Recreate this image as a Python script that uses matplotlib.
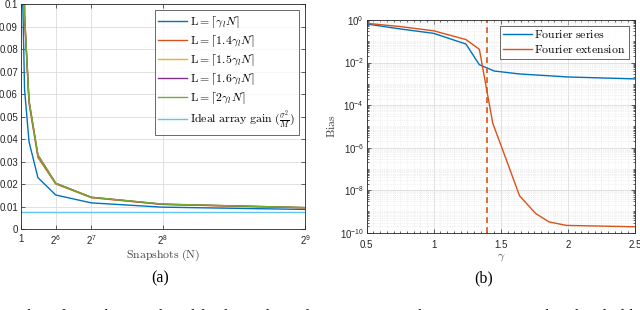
import numpy as np
import matplotlib
matplotlib.use("Agg")
import matplotlib.pyplot as plt
from matplotlib.ticker import FixedLocator, LogLocator, MultipleLocator, NullFormatter

plt.rcParams["font.family"] = ["Liberation Sans", "DejaVu Sans"]
plt.rcParams["mathtext.fontset"] = "cm"

# ---- panel (a): variance vs snapshots ----
snapshots = [4, 8, 16, 32, 64, 128, 256, 512]
var_l10 = [0.11, 0.062, 0.0389, 0.023, 0.0153, 0.0118, 0.0099, 0.0089]
var_l14 = [0.20, 0.094, 0.056, 0.032, 0.0202, 0.0141, 0.0111, 0.0096]
var_l15 = [0.20, 0.095, 0.057, 0.0328, 0.0204, 0.0142, 0.0112, 0.0097]
var_l16 = [0.20, 0.095, 0.057, 0.033, 0.0205, 0.0143, 0.0112, 0.0097]
var_l20 = [0.20, 0.095, 0.057, 0.033, 0.0205, 0.0143, 0.0113, 0.0097]
ideal_n = [1, 512]
ideal_gain = [0.0079, 0.0079]
labels_a = [r"$\mathrm{L} = \lceil\gamma_l N\rceil$",
            r"$\mathrm{L} = \lceil 1.4\gamma_l N\rceil$",
            r"$\mathrm{L} = \lceil 1.5\gamma_l N\rceil$",
            r"$\mathrm{L} = \lceil 1.6\gamma_l N\rceil$",
            r"$\mathrm{L} = \lceil 2\gamma_l N\rceil$",
            r"$\mathrm{Ideal\ array\ gain}\ (\frac{\sigma^2}{M})$"]
xticks_a = [1, 64, 128, 256, 512]
xticklabels_a = ["1", r"$\mathdefault{2^{6}}$", r"$\mathdefault{2^{7}}$",
                 r"$\mathdefault{2^{8}}$", r"$\mathdefault{2^{9}}$"]
yticks_a = [0, 0.01, 0.02, 0.03, 0.04, 0.05, 0.06, 0.07, 0.08, 0.09, 0.1]
yticklabels_a = ["0", "0.01", "0.02", "0.03", "0.04", "0.05", "0.06",
                 "0.07", "0.08", "0.09", "0.1"]

# ---- panel (b): bias vs gamma ----
gamma_fs = [0.5, 0.75, 1.0, 1.24, 1.34, 1.45, 1.64, 2.0, 2.5]
bias_fs = [0.65, 0.38, 0.235, 0.074, 0.0079, 0.004, 0.0029, 0.0021, 0.0017]
gamma_fe = [0.5, 0.75, 1.0, 1.24, 1.34, 1.44, 1.54, 1.64, 1.76, 1.86, 1.99, 2.5]
bias_fe = [0.70, 0.49, 0.31, 0.12, 0.042, 1.4e-5, 2.8e-7, 5.4e-9,
           8e-10, 3.2e-10, 2.2e-10, 1.9e-10]
gamma_cut = 1.4

blue, orange, yellow, purple, green = "#0072BD", "#D95319", "#EDB120", "#7E2F8E", "#77AC30"
light_blue = "#62C3EE"
axis_col = "#262626"
grid_col = "#dcdcdc"

fig = plt.figure(figsize=(6.4, 3.1), dpi=100)


def style_box(ax, xpad=2):
    for s in ax.spines.values():
        s.set_color(axis_col)
        s.set_linewidth(0.6)
    ax.tick_params(which="both", direction="in", top=True, right=True,
                   labelsize=7, colors=axis_col, length=3, width=0.5, pad=2)
    ax.tick_params(axis="x", pad=xpad)
    ax.tick_params(which="minor", length=1.5)


# panel (a)
ax1 = fig.add_axes([0.0323, 0.2597, 0.4443, 0.7274])
ax1.plot(snapshots, var_l10, color=blue, lw=1.0, label=labels_a[0])
ax1.plot(snapshots, var_l14, color=orange, lw=1.0, label=labels_a[1])
ax1.plot(snapshots, var_l15, color=yellow, lw=1.0, label=labels_a[2])
ax1.plot(snapshots, var_l16, color=purple, lw=1.0, label=labels_a[3])
ax1.plot(snapshots, var_l20, color=green, lw=1.0, label=labels_a[4])
ax1.plot(ideal_n, ideal_gain, color=light_blue, lw=1.0, label=labels_a[5])
ax1.set_xlim(1, 512)
ax1.set_ylim(0, 0.1)
ax1.set_xticks(xticks_a)
ax1.set_xticklabels(xticklabels_a)
ax1.set_yticks(yticks_a)
ax1.set_yticklabels(yticklabels_a)
ax1.grid(True, color=grid_col, lw=0.6)
style_box(ax1, xpad=3)
ax1.set_xlabel(r"$\mathrm{Snapshots\ (N)}$", fontsize=8.5, color="#444444", labelpad=0.5)
leg1 = ax1.legend(loc="upper right", fontsize=8.5, frameon=True, fancybox=False,
                  edgecolor=axis_col, handlelength=2.4, handletextpad=0.3,
                  labelspacing=0.25, borderpad=0.3, borderaxespad=0.55)
leg1.get_frame().set_linewidth(0.6)

# panel (b)
ax2 = fig.add_axes([0.573, 0.2494, 0.419, 0.6861])
ax2.semilogy(gamma_fs, bias_fs, color=blue, lw=1.0, label="Fourier series")
ax2.semilogy(gamma_fe, bias_fe, color=orange, lw=1.0, label="Fourier extension")
ax2.axvline(gamma_cut, color=orange, lw=1.2, ls=(0, (3.5, 2.5)))
ax2.set_xlim(0.5, 2.5)
ax2.set_ylim(1e-10, 1)
ax2.set_xticks([0.5, 1, 1.5, 2, 2.5])
ax2.set_xticklabels(["0.5", "1", "1.5", "2", "2.5"])
ax2.xaxis.set_minor_locator(MultipleLocator(0.05))
ax2.yaxis.set_major_locator(FixedLocator([1e-10, 1e-8, 1e-6, 1e-4, 1e-2, 1]))
ax2.yaxis.set_minor_locator(LogLocator(base=10, subs=np.arange(1, 10), numticks=30))
ax2.yaxis.set_minor_formatter(NullFormatter())
ax2.grid(True, which="major", color=grid_col, lw=0.6)
ax2.grid(True, which="minor", color="#e4e4e4", lw=0.5, ls=":")
style_box(ax2, xpad=5)
ax2.set_xlabel(r"$\gamma$", fontsize=8.5, color="#444444", labelpad=1)
ax2.set_ylabel(r"$\mathrm{Bias}$", fontsize=8.5, color="#444444", labelpad=1)
leg2 = ax2.legend(loc="upper right", fontsize=8.5, frameon=True, fancybox=False,
                  edgecolor=axis_col, handlelength=2.4, handletextpad=0.2,
                  labelspacing=0.2, borderpad=0.3, borderaxespad=0.5)
leg2.get_frame().set_linewidth(0.6)
for t in leg2.get_texts():
    t.set_text(r"$\mathrm{" + t.get_text().replace(" ", r"\ ") + "}$")

# sub-captions and the cut caption line
fig.text(0.25, 0.103, "(a)", ha="center", va="center", fontsize=11.5,
         family=["Liberation Serif"])
fig.text(0.755, 0.103, "(b)", ha="center", va="center", fontsize=11.5,
         family=["Liberation Serif"])
fig.text(0.5, -0.035, "umber of snapshots N plotted for five values of L. As N grows, "
         "the variance approaches the ideal l", ha="center", va="baseline",
         fontsize=11.5, family=["Liberation Serif"])

fig.savefig("out.png", dpi=100)
